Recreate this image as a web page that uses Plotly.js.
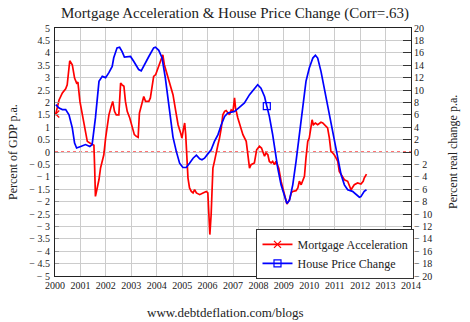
<!DOCTYPE html>
<html>
<head>
<meta charset="utf-8">
<script src="https://cdn.plot.ly/plotly-3.0.1.min.js"></script>
<style>html,body{margin:0;padding:0;background:#fff;}#chart{width:470px;height:322px;}</style>
</head>
<body>
<div id="chart"></div>
<script>
// Mortgage Acceleration (Percent of GDP p.a., left axis)
const mortYears = [2000.03,2000.16,2000.29,2000.42,2000.48,2000.55,2000.58,2000.68,2000.77,2000.85,2000.90,2000.98,
 2001.07,2001.20,2001.27,2001.37,2001.46,2001.53,2001.56,2001.59,2001.66,2001.73,2001.79,2001.86,2001.92,2001.99,
 2002.05,2002.12,2002.21,2002.27,2002.34,2002.41,2002.51,2002.58,2002.64,2002.71,2002.77,2002.84,2002.94,
 2003.03,2003.12,2003.20,2003.27,2003.32,2003.39,2003.49,2003.56,2003.69,2003.75,2003.88,2003.96,
 2004.08,2004.17,2004.24,2004.30,2004.41,2004.54,2004.64,2004.75,2004.84,2004.94,2004.99,
 2005.06,2005.10,2005.14,2005.19,2005.23,2005.29,2005.36,2005.43,2005.49,2005.56,2005.69,2005.82,2005.95,
 2006.01,2006.05,2006.09,2006.14,2006.17,2006.21,2006.27,2006.34,2006.41,2006.47,2006.54,2006.60,2006.67,2006.73,2006.80,2006.86,2006.93,
 2007.00,2007.06,2007.10,2007.19,2007.28,2007.39,2007.52,2007.58,2007.65,2007.71,2007.84,2007.93,
 2008.04,2008.12,2008.17,2008.24,2008.30,2008.37,2008.43,2008.50,2008.56,2008.63,2008.69,2008.80,2008.89,
 2009.02,2009.12,2009.22,2009.29,2009.35,2009.48,2009.55,2009.61,2009.68,2009.74,2009.81,2009.87,2009.94,
 2010.00,2010.07,2010.11,2010.16,2010.24,2010.33,2010.40,2010.46,2010.53,2010.59,2010.72,2010.79,2010.85,2010.92,2010.98,
 2011.05,2011.12,2011.18,2011.25,2011.38,2011.51,2011.57,2011.64,2011.77,2011.90,
 2012.03,2012.12,2012.16,2012.25];
const mortAccel = [1.53,2.1,2.38,2.55,2.71,3.4,3.68,3.52,2.98,2.78,2.82,2.04,
 1.5,0.77,0.43,0.36,0.3,0.27,-0.65,-1.79,-1.45,-1.11,-0.65,-0.38,-0.11,0.56,
 1.1,1.5,1.84,2.04,1.64,1.5,1.5,2.78,2.71,2.65,2.04,1.64,1.37,
 0.97,0.7,0.63,0.59,1.57,1.84,2.24,2.04,2.04,2.18,3.05,3.12,
 3.45,3.66,3.92,3.52,3.12,2.58,2.31,1.64,1.1,0.77,0.56,
 0.97,1.17,0.7,-0.11,-1.05,-1.45,-1.59,-1.65,-1.52,-1.65,-1.72,-1.65,-1.59,
 -1.65,-2.73,-3.33,-2.53,-1.59,-0.65,-0.38,0.03,0.3,0.56,0.97,1.5,1.64,1.67,1.57,1.5,1.7,
 1.64,2.18,1.77,1.37,1.04,0.7,0.43,-0.11,-0.65,-0.51,-0.44,0.09,
 0.23,0.16,0.03,-0.17,-0.04,-0.11,-0.38,-0.44,-0.38,-0.51,-0.38,-0.65,-1.18,
 -1.72,-2.1,-1.92,-1.65,-1.59,-1.56,-1.45,-1.18,-1.32,-1.12,-0.98,-0.24,0.43,
 0.56,0.97,1.3,1.1,1.17,1.1,1.17,1.2,1.17,1.1,0.97,0.56,0.03,-0.04,-0.11,
 -0.24,-0.38,-0.78,-0.91,-1.12,-1.18,-1.38,-1.52,-1.32,-1.25,
 -1.29,-1.18,-1.05,-0.89];

// House Price Change (Percent real change p.a., right axis)
const hpYears = [2000.03,2000.16,2000.29,2000.42,2000.55,2000.68,2000.77,2000.85,2001.01,2001.20,2001.37,2001.46,2001.59,2001.73,2001.86,2001.99,
 2002.12,2002.25,2002.31,2002.44,2002.54,2002.64,2002.73,2002.97,2003.10,2003.29,2003.39,2003.49,2003.69,2003.88,2003.95,
 2004.08,2004.21,2004.34,2004.47,2004.56,2004.64,2004.77,2004.90,2005.03,2005.16,2005.29,2005.43,2005.56,2005.69,2005.78,2005.88,
 2006.01,2006.14,2006.27,2006.41,2006.54,2006.67,2006.80,2006.93,2007.06,2007.25,2007.45,2007.65,2007.84,2007.97,
 2008.10,2008.24,2008.33,2008.43,2008.56,2008.67,2008.76,2008.89,2009.02,2009.12,2009.22,2009.35,2009.48,2009.61,2009.74,2009.87,
 2010.00,2010.14,2010.24,2010.33,2010.46,2010.59,2010.72,2010.85,2010.98,2011.12,2011.25,2011.38,2011.51,2011.70,2011.84,2011.97,
 2012.03,2012.16,2012.25];
const hpChange = [7.64,7.1,6.85,6.85,6.0,3.9,1.45,0.65,0.9,1.2,0.9,1.2,5.5,11.4,12.2,12.0,
 12.8,13.8,15.2,16.8,16.9,16.2,15.3,15.4,14.6,13.3,13.1,13.8,15.4,16.8,16.9,
 16.4,15.2,11.9,7.6,4.4,2.4,0.1,-1.8,-2.5,-2.5,-1.8,-1.0,-0.5,-1.1,-1.25,-1.0,
 -0.3,0.35,1.7,2.8,4.4,5.75,6.3,6.45,6.55,7.2,7.9,9.25,10.3,10.85,
 10.3,8.95,7.4,5.75,2.8,-0.45,-2.6,-5.3,-7.2,-8.3,-7.8,-5.3,-1.5,2.8,6.55,11.4,
 13.55,15.15,15.6,15.15,13.0,10.3,7.65,4.95,2.25,-0.95,-3.65,-5.3,-6.1,-6.35,-6.9,-7.3,
 -7.2,-6.35,-6.1];

const mortMarkerIdx = 0;
const hpMarkerIdx = 63;

const leftTicks = [5,4.5,4,3.5,3,2.5,2,1.5,1,0.5,0,-0.5,-1,-1.5,-2,-2.5,-3,-3.5,-4,-4.5,-5];
const rightTicks = [20,18,16,14,12,10,8,6,4,2,0,-2,-4,-6,-8,-10,-12,-14,-16,-18,-20];
const yearTicks = [2000,2001,2002,2003,2004,2005,2006,2007,2008,2009,2010,2011,2012,2013,2014];

function lab(v){ return v < 0 ? '\u2212 ' + String(-v) : String(v); }

const RED = '#ff0000', BLUE = '#0000ff';
const F = 'Liberation Serif';

const traces = [
  {x: mortYears, y: mortAccel, type: 'scatter', mode: 'lines', line: {color: RED, width: 1.7},
   showlegend: false, hoverinfo: 'skip'},
  {x: hpYears, y: hpChange, yaxis: 'y2', type: 'scatter', mode: 'lines', line: {color: BLUE, width: 1.7},
   showlegend: false, hoverinfo: 'skip'},
  {x: [mortYears[mortMarkerIdx]], y: [mortAccel[mortMarkerIdx]], type: 'scatter', mode: 'lines+markers',
   name: 'Mortgage Acceleration', line: {color: RED, width: 1.7},
   marker: {symbol: 'x-thin-open', size: 7, color: RED, line: {color: RED, width: 1.3}}},
  {x: [hpYears[hpMarkerIdx]], y: [hpChange[hpMarkerIdx]], yaxis: 'y2', type: 'scatter', mode: 'lines+markers',
   name: 'House Price Change', line: {color: BLUE, width: 1.7},
   marker: {symbol: 'square-open', size: 7, color: BLUE, line: {color: BLUE, width: 1.2}}}
];

const layout = {
  width: 470, height: 322,
  margin: {l: 55, r: 59, t: 28, b: 46, pad: 0},
  paper_bgcolor: '#fff', plot_bgcolor: '#fff',
  font: {family: F, color: '#222', size: 10},
  title: {text: 'Mortgage Acceleration &amp; House Price Change (Corr=.63)', font: {family: F, size: 15, color: '#222'},
          x: 0.5, xanchor: 'center', y: 0.96, yanchor: 'middle'},
  xaxis: {range: [2000, 2014], tickvals: yearTicks, ticktext: yearTicks.map(String),
          showgrid: true, gridcolor: '#cccccc', gridwidth: 1, zeroline: false,
          showline: true, linecolor: '#222', linewidth: 1, mirror: true,
          ticks: '', tickfont: {family: F, size: 10, color: '#222'}, fixedrange: true},
  yaxis: {range: [-5, 5], tickvals: leftTicks, ticktext: leftTicks.map(lab),
          showgrid: true, gridcolor: '#cccccc', gridwidth: 1, zeroline: false,
          showline: true, linecolor: '#222', linewidth: 1,
          ticks: 'inside', ticklen: 4, tickcolor: '#999', ticklabelstandoff: 2,
          tickfont: {family: F, size: 10, color: '#222'}, fixedrange: true},
  yaxis2: {range: [-20, 20], overlaying: 'y', side: 'right', tickvals: rightTicks, ticktext: rightTicks.map(lab),
           showgrid: false, zeroline: false, showline: true, linecolor: '#222', linewidth: 1,
           ticks: 'inside', ticklen: 8, tickcolor: '#333',
           tickfont: {family: F, size: 10, color: '#222'}, fixedrange: true},
  shapes: [{type: 'line', xref: 'paper', x0: 0, x1: 1, yref: 'y', y0: 0, y1: 0,
            line: {color: '#ff4444', width: 1.5, dash: 'dot'}, layer: 'between'}],
  legend: {x: 0.566, y: 0.19, xanchor: 'left', yanchor: 'top', bgcolor: '#fff',
           bordercolor: '#333', borderwidth: 1, font: {family: F, size: 12, color: '#222'},
           tracegroupgap: 0, itemwidth: 30},
  annotations: [
    {text: 'Percent of GDP p.a.', xref: 'paper', yref: 'paper', x: 0, y: 0.5, xshift: -42,
     xanchor: 'center', yanchor: 'middle', textangle: -90, showarrow: false, font: {family: F, size: 12, color: '#222'}},
    {text: 'Percent real change p.a.', xref: 'paper', yref: 'paper', x: 1, y: 0.5, xshift: 42,
     xanchor: 'center', yanchor: 'middle', textangle: -90, showarrow: false, font: {family: F, size: 12, color: '#222'}},
    {text: 'www.debtdeflation.com/blogs', xref: 'paper', yref: 'paper', x: 0.5, y: 0, yshift: -36, xshift: -8,
     xanchor: 'center', yanchor: 'middle', showarrow: false, font: {family: F, size: 13, color: '#222'}}
  ]
};

Plotly.newPlot('chart', traces, layout, {staticPlot: true, displayModeBar: false});
</script>
</body>
</html>
